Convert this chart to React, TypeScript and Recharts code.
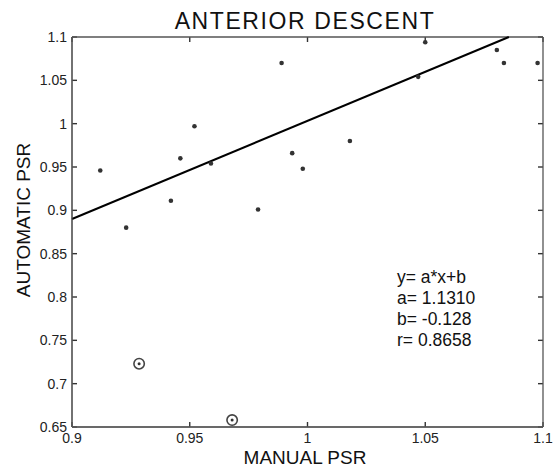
import React from 'react';
import { ScatterChart, Scatter, XAxis, YAxis, ReferenceLine } from 'recharts';

const manualPsr = [0.912, 0.923, 0.942, 0.946, 0.952, 0.959, 0.979, 0.989, 0.9935, 0.998, 1.018, 1.047, 1.05, 1.0804, 1.0834, 1.0977];
const automaticPsr = [0.946, 0.88, 0.911, 0.96, 0.997, 0.954, 0.901, 1.07, 0.966, 0.948, 0.98, 1.054, 1.094, 1.085, 1.07, 1.07];
const outlierManual = [0.9285, 0.968];
const outlierAutomatic = [0.723, 0.658];
const fitX = [0.9, 1.0855];
const fitY = [0.89, 1.1];
const xTicks = [0.9, 0.95, 1, 1.05, 1.1];
const yTicks = [0.65, 0.7, 0.75, 0.8, 0.85, 0.9, 0.95, 1, 1.05, 1.1];
const title = 'ANTERIOR DESCENT';
const xLabel = 'MANUAL PSR';
const yLabel = 'AUTOMATIC PSR';
const annotation = ['y= a*x+b', 'a= 1.1310', 'b= -0.128', 'r= 0.8658'];

const points = manualPsr.map((x, i) => ({ x, y: automaticPsr[i] }));
const outliers = outlierManual.map((x, i) => ({ x, y: outlierAutomatic[i] }));

const FONT = '"Liberation Sans", Arial, Helvetica, sans-serif';
const AXIS = '#555';
const TICK = '#333';
const TL = 5;

const Dot = (props: any) => {
  const { cx, cy } = props;
  return <circle cx={cx} cy={cy} r={2.3} fill="#333" />;
};

const Ringed = (props: any) => {
  const { cx, cy } = props;
  return (
    <g>
      <circle cx={cx} cy={cy} r={5.2} fill="none" stroke="#444" strokeWidth={1.6} />
      <circle cx={cx} cy={cy} r={1.5} fill="#333" />
    </g>
  );
};

const BottomTick = (props: any) => {
  const { x, y, payload } = props;
  return (
    <text x={x} y={y + 6} dy="0.71em" textAnchor="middle" fontSize={14} fontFamily={FONT} fill="#222">
      {String(payload.value)}
    </text>
  );
};

const LeftTick = (props: any) => {
  const { x, y, payload } = props;
  return (
    <text x={x - 5} y={y} dy="0.355em" textAnchor="end" fontSize={14} fontFamily={FONT} fill="#222">
      {String(payload.value)}
    </text>
  );
};

// Inward tick marks at both ends of a full-height reference line
const VTickShape = (props: any) => {
  const { x1, y1, y2 } = props;
  const top = Math.min(y1, y2);
  const bot = Math.max(y1, y2);
  return (
    <g>
      <line x1={x1} y1={bot} x2={x1} y2={bot - TL} stroke={TICK} strokeWidth={1.4} />
      <line x1={x1} y1={top} x2={x1} y2={top + TL} stroke={TICK} strokeWidth={1.4} />
    </g>
  );
};

// Inward tick marks at both ends of a full-width reference line
const HTickShape = (props: any) => {
  const { x1, x2, y1 } = props;
  const l = Math.min(x1, x2);
  const r = Math.max(x1, x2);
  return (
    <g>
      <line x1={l} y1={y1} x2={l + TL} y2={y1} stroke={TICK} strokeWidth={1.4} />
      <line x1={r} y1={y1} x2={r - TL} y2={y1} stroke={TICK} strokeWidth={1.4} />
    </g>
  );
};

export default function App() {
  return (
    <div style={{ position: 'fixed', left: 0, top: 0, width: 557, height: 467, background: '#fff' }}>
      <ScatterChart width={557} height={467} margin={{ top: 37, right: 14, left: 0, bottom: 0 }}>
        <XAxis
          type="number"
          dataKey="x"
          domain={[0.9, 1.1]}
          ticks={xTicks}
          height={40}
          stroke={AXIS}
          tickSize={0}
          tickMargin={0}
          tickLine={false}
          tick={<BottomTick />}
          interval={0}
          allowDataOverflow
        />
        <YAxis
          type="number"
          dataKey="y"
          domain={[0.65, 1.1]}
          ticks={yTicks}
          width={72}
          stroke={AXIS}
          tickSize={0}
          tickMargin={0}
          tickLine={false}
          tick={<LeftTick />}
          interval={0}
          allowDataOverflow
        />
        {xTicks.map((t) => (
          <ReferenceLine key={'vx' + t} x={t} shape={VTickShape} />
        ))}
        {yTicks.map((t) => (
          <ReferenceLine key={'hy' + t} y={t} shape={HTickShape} />
        ))}
        <ReferenceLine x={xTicks[0]} stroke={AXIS} strokeWidth={1.3} />
        <ReferenceLine x={xTicks[xTicks.length - 1]} stroke={AXIS} strokeWidth={1.3} />
        <ReferenceLine y={yTicks[0]} stroke={AXIS} strokeWidth={1.3} />
        <ReferenceLine y={yTicks[yTicks.length - 1]} stroke={AXIS} strokeWidth={1.3} />
        <ReferenceLine
          segment={[
            { x: fitX[0], y: fitY[0] },
            { x: fitX[1], y: fitY[1] },
          ]}
          stroke="#000"
          strokeWidth={2}
          ifOverflow="visible"
        />
        <Scatter data={points} shape={Dot} isAnimationActive={false} />
        <Scatter data={outliers} shape={Ringed} isAnimationActive={false} />
      </ScatterChart>
      <svg
        width={557}
        height={467}
        style={{ position: 'absolute', left: 0, top: 0, pointerEvents: 'none' }}
      >
        <text x={305} y={29} textAnchor="middle" fontSize={23} letterSpacing={1.6} fontFamily={FONT} fill="#111">
          {title}
        </text>
        <text x={305} y={464} textAnchor="middle" fontSize={19} fontFamily={FONT} fill="#111">
          {xLabel}
        </text>
        <text
          x={30}
          y={220}
          textAnchor="middle"
          fontSize={19}
          fontFamily={FONT}
          fill="#111"
          transform="rotate(-90, 30, 220)"
        >
          {yLabel}
        </text>
        {annotation.map((line, i) => (
          <text key={i} x={397} y={283 + i * 21} fontSize={17.5} fontFamily={FONT} fill="#111">
            {line}
          </text>
        ))}
      </svg>
    </div>
  );
}
